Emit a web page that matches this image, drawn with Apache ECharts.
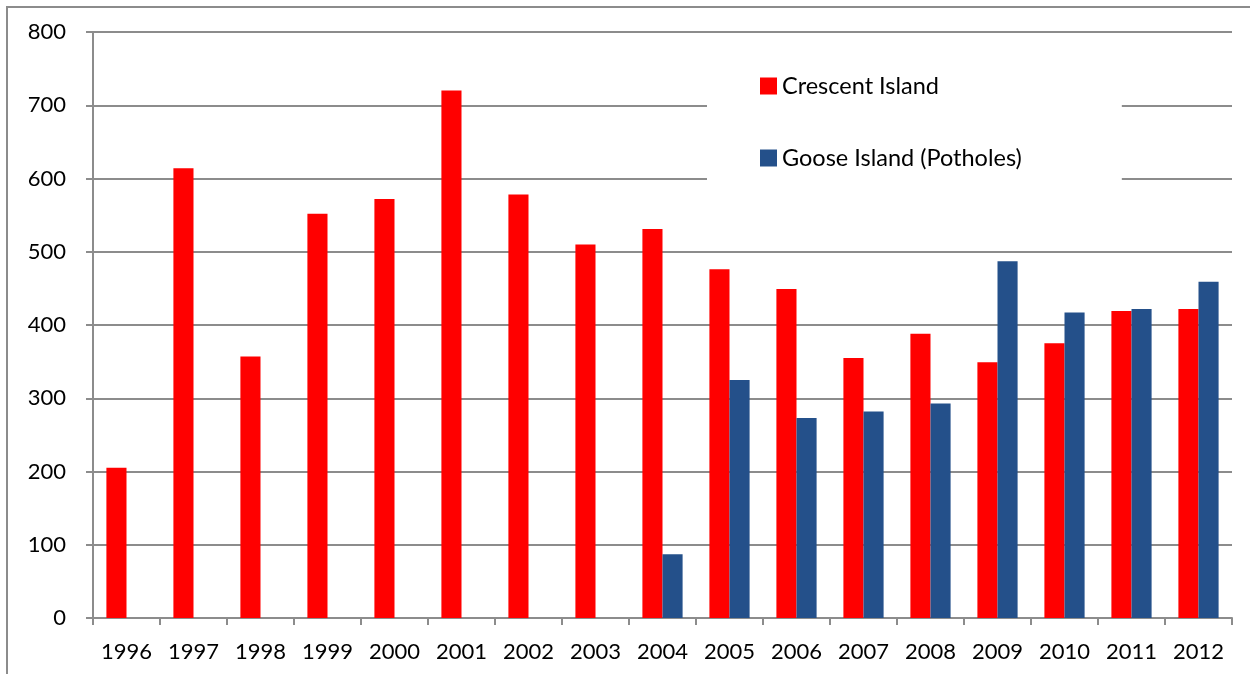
<!DOCTYPE html>
<html>
<head>
<meta charset="utf-8">
<script src="https://cdn.jsdelivr.net/npm/echarts@6/dist/echarts.min.js"></script>
<style>
  html, body { margin: 0; padding: 0; background: #fff; }
  #chart { width: 1250px; height: 674px; }
</style>
</head>
<body>
<div id="chart"></div>
<script>
// 数据
const years = ['1996', '1997', '1998', '1999', '2000', '2001', '2002', '2003', '2004',
    '2005', '2006', '2007', '2008', '2009', '2010', '2011', '2012'];
const crescent = [205, 614, 357, 552, 572, 720, 578, 510, 531, 476, 449, 355, 388, 349, 375, 419, 422];
const goose = [null, null, null, null, null, null, null, null, 87, 325, 273, 282, 293, 487, 417, 422, 459];
const yTicks = [0, 100, 200, 300, 400, 500, 600, 700, 800];

const font = 'Lato, "Open Sans", sans-serif';
const chart = echarts.init(document.getElementById('chart'));

chart.setOption({
    backgroundColor: '#fff',
    animation: false,
    textStyle: { fontFamily: font },
    graphic: [{
        type: 'rect',
        shape: { x: 7, y: 7, width: 1300, height: 720 },
        style: { fill: 'none', stroke: '#8c8c8c', lineWidth: 2 },
        z: -1
    }],
    grid: { left: 93, right: 18, top: 32, bottom: 56 },
    legend: {
        orient: 'vertical',
        left: 707,
        top: 60,
        padding: [14, 100, 14, 53],
        backgroundColor: '#fff',
        itemWidth: 17,
        itemHeight: 17,
        itemGap: 48,
        icon: 'rect',
        textStyle: { fontSize: 23.5, color: '#000', fontFamily: font },
        data: ['Crescent Island', 'Goose Island (Potholes)']
    },
    xAxis: {
        type: 'category',
        data: years,
        axisLine: { lineStyle: { color: '#8c8c8c', width: 2 } },
        axisTick: { show: true, length: 7, lineStyle: { color: '#8c8c8c', width: 2 } },
        axisLabel: { fontSize: 22, color: '#000', margin: 23 }
    },
    yAxis: {
        type: 'value',
        min: 0,
        max: 800,
        interval: 100,
        axisLine: { show: true, lineStyle: { color: '#8c8c8c', width: 2 } },
        axisTick: { show: true, length: 7, lineStyle: { color: '#8c8c8c', width: 2 } },
        splitLine: { lineStyle: { color: '#8c8c8c', width: 2 } },
        axisLabel: {
            fontSize: 22, color: '#000', margin: 27,
            formatter: v => yTicks.includes(v) ? String(v) : ''
        }
    },
    series: [{
        name: 'Crescent Island',
        type: 'bar',
        data: crescent,
        barGap: '0%',
        barCategoryGap: '40%',
        itemStyle: { color: '#ff0000' }
    }, {
        name: 'Goose Island (Potholes)',
        type: 'bar',
        data: goose,
        itemStyle: { color: '#24508a' }
    }]
});
</script>
</body>
</html>
